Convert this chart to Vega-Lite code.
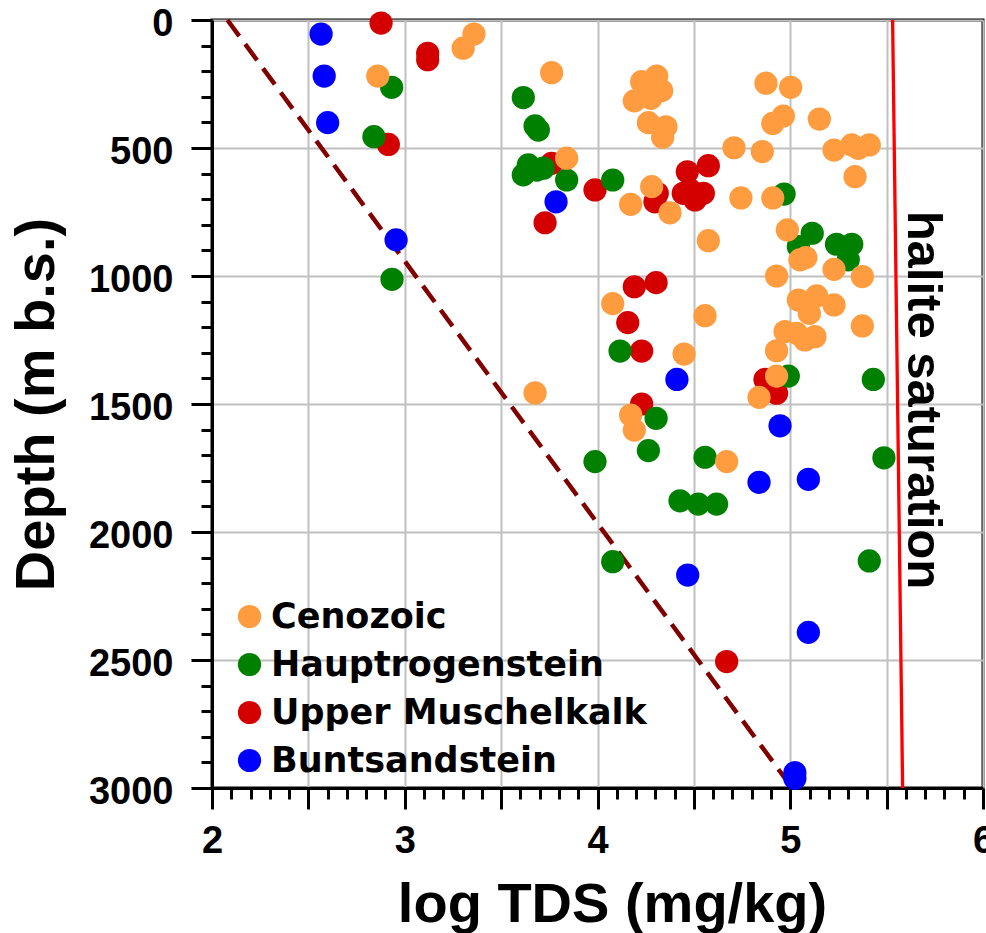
{
  "$schema": "https://vega.github.io/schema/vega-lite/v6.json",
  "width": 771,
  "height": 768,
  "autosize": "none",
  "padding": {"left": 212, "top": 20, "right": 3, "bottom": 145},
  "background": "white",
  "config": {
    "view": {"stroke": "black", "strokeWidth": 3},
    "font": "Liberation Sans",
    "axis": {
      "labelFont": "Liberation Sans",
      "labelFontWeight": "bold",
      "labelColor": "black",
      "titleFont": "Liberation Sans",
      "titleFontWeight": "bold",
      "titleColor": "black",
      "tickColor": "black",
      "domainColor": "black",
      "labelOverlap": false,
      "labelFlush": false
    }
  },
  "layer": [
    {
      "data": {"values": [{"tds": 2.08, "depth": 0}, {"tds": 5.0, "depth": 2990}]},
      "mark": {"type": "line", "color": "#800000", "strokeWidth": 4.5, "strokeDash": [20, 10]},
      "encoding": {
        "x": {
          "field": "tds", "type": "quantitative",
          "scale": {"domain": [2, 6], "nice": false, "zero": false},
          "axis": {
            "orient": "bottom", "values": [2.1, 2.2, 2.3, 2.4, 2.6, 2.7, 2.8, 2.9, 3.1, 3.2, 3.3, 3.4, 3.6, 3.7, 3.8, 3.9, 4.1, 4.2, 4.3, 4.4, 4.6, 4.7, 4.8, 4.9, 5.1, 5.2, 5.3, 5.4, 5.6, 5.7, 5.8, 5.9],
            "tickSize": 11, "tickWidth": 3, "labels": false, "domain": false, "grid": false, "title": null
          }
        },
        "y": {
          "field": "depth", "type": "quantitative",
          "scale": {"domain": [0, 3000], "reverse": true, "nice": false, "zero": false},
          "axis": {
            "orient": "left", "values": [100, 200, 300, 400, 600, 700, 800, 900, 1100, 1200, 1300, 1400, 1600, 1700, 1800, 1900, 2100, 2200, 2300, 2400, 2600, 2700, 2800, 2900],
            "tickSize": 11, "tickWidth": 3, "labels": false, "domain": false, "grid": false, "title": null
          }
        }
      }
    },
    {
      "data": {"values": [{"tds": 5.531, "depth": 0}, {"tds": 5.583, "depth": 3000}]},
      "mark": {"type": "line", "color": "#ff0000", "strokeWidth": 3.3},
      "encoding": {
        "x": {"field": "tds", "type": "quantitative", "scale": {"domain": [2, 6], "nice": false, "zero": false}, "axis": null},
        "y": {"field": "depth", "type": "quantitative", "scale": {"domain": [0, 3000], "reverse": true, "nice": false, "zero": false}, "axis": null}
      }
    },
    {
      "data": {"values": [
        {"u": "Buntsandstein", "tds": 2.566, "depth": 55},
        {"u": "Buntsandstein", "tds": 2.582, "depth": 219},
        {"u": "Buntsandstein", "tds": 2.600, "depth": 401},
        {"u": "Buntsandstein", "tds": 3.785, "depth": 710},
        {"u": "Buntsandstein", "tds": 2.955, "depth": 859},
        {"u": "Buntsandstein", "tds": 4.412, "depth": 1404},
        {"u": "Buntsandstein", "tds": 4.947, "depth": 1585},
        {"u": "Buntsandstein", "tds": 4.838, "depth": 1806},
        {"u": "Buntsandstein", "tds": 5.094, "depth": 1794},
        {"u": "Buntsandstein", "tds": 4.468, "depth": 2168},
        {"u": "Buntsandstein", "tds": 5.094, "depth": 2392},
        {"u": "Buntsandstein", "tds": 5.024, "depth": 2940},
        {"u": "Buntsandstein", "tds": 5.024, "depth": 2962},
        {"u": "Upper Muschelkalk", "tds": 2.877, "depth": 12},
        {"u": "Upper Muschelkalk", "tds": 3.119, "depth": 130},
        {"u": "Upper Muschelkalk", "tds": 3.119, "depth": 155},
        {"u": "Upper Muschelkalk", "tds": 2.915, "depth": 486},
        {"u": "Upper Muschelkalk", "tds": 3.762, "depth": 560},
        {"u": "Upper Muschelkalk", "tds": 3.987, "depth": 664},
        {"u": "Upper Muschelkalk", "tds": 3.728, "depth": 792},
        {"u": "Upper Muschelkalk", "tds": 4.310, "depth": 677},
        {"u": "Upper Muschelkalk", "tds": 4.298, "depth": 710},
        {"u": "Upper Muschelkalk", "tds": 4.466, "depth": 593},
        {"u": "Upper Muschelkalk", "tds": 4.575, "depth": 569},
        {"u": "Upper Muschelkalk", "tds": 4.445, "depth": 677},
        {"u": "Upper Muschelkalk", "tds": 4.506, "depth": 703},
        {"u": "Upper Muschelkalk", "tds": 4.549, "depth": 677},
        {"u": "Upper Muschelkalk", "tds": 4.480, "depth": 664},
        {"u": "Upper Muschelkalk", "tds": 4.191, "depth": 1042},
        {"u": "Upper Muschelkalk", "tds": 4.304, "depth": 1026},
        {"u": "Upper Muschelkalk", "tds": 4.157, "depth": 1182},
        {"u": "Upper Muschelkalk", "tds": 4.229, "depth": 1293},
        {"u": "Upper Muschelkalk", "tds": 4.869, "depth": 1404},
        {"u": "Upper Muschelkalk", "tds": 4.929, "depth": 1458},
        {"u": "Upper Muschelkalk", "tds": 4.229, "depth": 1500},
        {"u": "Upper Muschelkalk", "tds": 4.670, "depth": 2506},
        {"u": "Hauptrogenstein", "tds": 2.932, "depth": 263},
        {"u": "Hauptrogenstein", "tds": 2.840, "depth": 456},
        {"u": "Hauptrogenstein", "tds": 3.615, "depth": 303},
        {"u": "Hauptrogenstein", "tds": 3.676, "depth": 414},
        {"u": "Hauptrogenstein", "tds": 3.693, "depth": 430},
        {"u": "Hauptrogenstein", "tds": 3.641, "depth": 566},
        {"u": "Hauptrogenstein", "tds": 3.615, "depth": 605},
        {"u": "Hauptrogenstein", "tds": 3.685, "depth": 586},
        {"u": "Hauptrogenstein", "tds": 3.719, "depth": 579},
        {"u": "Hauptrogenstein", "tds": 3.840, "depth": 625},
        {"u": "Hauptrogenstein", "tds": 2.934, "depth": 1013},
        {"u": "Hauptrogenstein", "tds": 4.079, "depth": 625},
        {"u": "Hauptrogenstein", "tds": 4.968, "depth": 680},
        {"u": "Hauptrogenstein", "tds": 5.114, "depth": 833},
        {"u": "Hauptrogenstein", "tds": 5.042, "depth": 885},
        {"u": "Hauptrogenstein", "tds": 5.240, "depth": 876},
        {"u": "Hauptrogenstein", "tds": 5.319, "depth": 876},
        {"u": "Hauptrogenstein", "tds": 5.301, "depth": 937},
        {"u": "Hauptrogenstein", "tds": 4.117, "depth": 1293},
        {"u": "Hauptrogenstein", "tds": 4.990, "depth": 1391},
        {"u": "Hauptrogenstein", "tds": 5.431, "depth": 1404},
        {"u": "Hauptrogenstein", "tds": 4.304, "depth": 1556},
        {"u": "Hauptrogenstein", "tds": 3.987, "depth": 1725},
        {"u": "Hauptrogenstein", "tds": 4.264, "depth": 1682},
        {"u": "Hauptrogenstein", "tds": 4.558, "depth": 1708},
        {"u": "Hauptrogenstein", "tds": 5.486, "depth": 1710},
        {"u": "Hauptrogenstein", "tds": 4.428, "depth": 1878},
        {"u": "Hauptrogenstein", "tds": 4.523, "depth": 1891},
        {"u": "Hauptrogenstein", "tds": 4.618, "depth": 1891},
        {"u": "Hauptrogenstein", "tds": 4.079, "depth": 2116},
        {"u": "Hauptrogenstein", "tds": 5.410, "depth": 2113},
        {"u": "Cenozoic", "tds": 3.359, "depth": 55},
        {"u": "Cenozoic", "tds": 3.303, "depth": 110},
        {"u": "Cenozoic", "tds": 3.762, "depth": 206},
        {"u": "Cenozoic", "tds": 2.860, "depth": 219},
        {"u": "Cenozoic", "tds": 3.840, "depth": 540},
        {"u": "Cenozoic", "tds": 4.307, "depth": 219},
        {"u": "Cenozoic", "tds": 4.229, "depth": 241},
        {"u": "Cenozoic", "tds": 4.281, "depth": 280},
        {"u": "Cenozoic", "tds": 4.333, "depth": 276},
        {"u": "Cenozoic", "tds": 4.191, "depth": 316},
        {"u": "Cenozoic", "tds": 4.277, "depth": 306},
        {"u": "Cenozoic", "tds": 4.264, "depth": 401},
        {"u": "Cenozoic", "tds": 4.355, "depth": 417},
        {"u": "Cenozoic", "tds": 4.338, "depth": 458},
        {"u": "Cenozoic", "tds": 4.708, "depth": 499},
        {"u": "Cenozoic", "tds": 4.855, "depth": 514},
        {"u": "Cenozoic", "tds": 4.874, "depth": 247},
        {"u": "Cenozoic", "tds": 5.002, "depth": 263},
        {"u": "Cenozoic", "tds": 4.909, "depth": 404},
        {"u": "Cenozoic", "tds": 4.964, "depth": 375},
        {"u": "Cenozoic", "tds": 5.151, "depth": 387},
        {"u": "Cenozoic", "tds": 5.227, "depth": 508},
        {"u": "Cenozoic", "tds": 5.319, "depth": 488},
        {"u": "Cenozoic", "tds": 5.410, "depth": 488},
        {"u": "Cenozoic", "tds": 5.353, "depth": 501},
        {"u": "Cenozoic", "tds": 5.336, "depth": 612},
        {"u": "Cenozoic", "tds": 4.172, "depth": 720},
        {"u": "Cenozoic", "tds": 4.281, "depth": 651},
        {"u": "Cenozoic", "tds": 4.376, "depth": 753},
        {"u": "Cenozoic", "tds": 4.575, "depth": 862},
        {"u": "Cenozoic", "tds": 4.744, "depth": 695},
        {"u": "Cenozoic", "tds": 4.909, "depth": 695},
        {"u": "Cenozoic", "tds": 4.985, "depth": 820},
        {"u": "Cenozoic", "tds": 5.050, "depth": 937},
        {"u": "Cenozoic", "tds": 5.081, "depth": 928},
        {"u": "Cenozoic", "tds": 5.227, "depth": 974},
        {"u": "Cenozoic", "tds": 4.929, "depth": 1000},
        {"u": "Cenozoic", "tds": 5.374, "depth": 1002},
        {"u": "Cenozoic", "tds": 4.079, "depth": 1108},
        {"u": "Cenozoic", "tds": 4.558, "depth": 1155},
        {"u": "Cenozoic", "tds": 4.449, "depth": 1305},
        {"u": "Cenozoic", "tds": 5.042, "depth": 1094},
        {"u": "Cenozoic", "tds": 5.137, "depth": 1078},
        {"u": "Cenozoic", "tds": 5.227, "depth": 1113},
        {"u": "Cenozoic", "tds": 5.099, "depth": 1146},
        {"u": "Cenozoic", "tds": 5.374, "depth": 1195},
        {"u": "Cenozoic", "tds": 4.973, "depth": 1217},
        {"u": "Cenozoic", "tds": 5.076, "depth": 1250},
        {"u": "Cenozoic", "tds": 5.128, "depth": 1237},
        {"u": "Cenozoic", "tds": 5.033, "depth": 1224},
        {"u": "Cenozoic", "tds": 4.929, "depth": 1292},
        {"u": "Cenozoic", "tds": 4.929, "depth": 1391},
        {"u": "Cenozoic", "tds": 4.838, "depth": 1474},
        {"u": "Cenozoic", "tds": 4.172, "depth": 1543},
        {"u": "Cenozoic", "tds": 4.191, "depth": 1602},
        {"u": "Cenozoic", "tds": 4.670, "depth": 1725},
        {"u": "Cenozoic", "tds": 3.676, "depth": 1457}
      ]},
      "mark": {"type": "circle", "size": 540, "opacity": 1},
      "encoding": {
        "x": {
          "field": "tds", "type": "quantitative",
          "scale": {"domain": [2, 6], "nice": false, "zero": false},
          "axis": {
            "orient": "bottom", "values": [2, 2.5, 3, 3.5, 4, 4.5, 5, 5.5, 6],
            "labelExpr": "datum.value % 1 === 0 ? format(datum.value, 'd') : ''",
            "tickSize": 21, "tickWidth": 3, "domain": true, "domainWidth": 3,
            "grid": true, "gridColor": "#c0c0c0", "gridWidth": 2,
            "labelFontSize": 38, "labelPadding": 13,
            "title": "log TDS (mg/kg)", "titleFontSize": 56, "titlePadding": 17, "titleX": 400
          }
        },
        "y": {
          "field": "depth", "type": "quantitative",
          "scale": {"domain": [0, 3000], "reverse": true, "nice": false, "zero": false},
          "axis": {
            "orient": "left", "values": [0, 500, 1000, 1500, 2000, 2500, 3000],
            "format": "d",
            "tickSize": 21, "tickWidth": 3, "domain": true, "domainWidth": 3,
            "grid": true, "gridColor": "#c0c0c0", "gridWidth": 2,
            "labelFontSize": 38, "labelPadding": 18, "labelOffset": 4,
            "title": "Depth (m b.s.)", "titleFontSize": 56, "titlePadding": 23
          }
        },
        "color": {
          "field": "u", "type": "nominal",
          "scale": {
            "domain": ["Cenozoic", "Hauptrogenstein", "Upper Muschelkalk", "Buntsandstein"],
            "range": ["#ff9c40", "#008000", "#d40000", "#0000ff"]
          },
          "legend": {
            "title": null, "orient": "none", "legendX": 20, "legendY": 579,
            "padding": 0, "symbolType": "circle", "symbolSize": 540, "symbolStrokeWidth": 0,
            "labelFont": "DejaVu Sans", "labelFontWeight": "bold", "labelFontSize": 35,
            "labelColor": "black", "labelOffset": 4, "rowPadding": 12, "labelLimit": 600
          }
        }
      }
    },
    {
      "data": {"values": [{"tds": 5.69, "depth": 1484, "label": "halite saturation"}]},
      "mark": {"type": "text", "angle": 90, "align": "center", "baseline": "middle", "font": "Liberation Sans", "fontWeight": "bold", "fontSize": 49, "color": "black"},
      "encoding": {
        "x": {"field": "tds", "type": "quantitative", "scale": {"domain": [2, 6], "nice": false, "zero": false}, "axis": null},
        "y": {"field": "depth", "type": "quantitative", "scale": {"domain": [0, 3000], "reverse": true, "nice": false, "zero": false}, "axis": null},
        "text": {"field": "label", "type": "nominal"}
      }
    }
  ],
  "resolve": {"axis": {"x": "independent", "y": "independent"}}
}
